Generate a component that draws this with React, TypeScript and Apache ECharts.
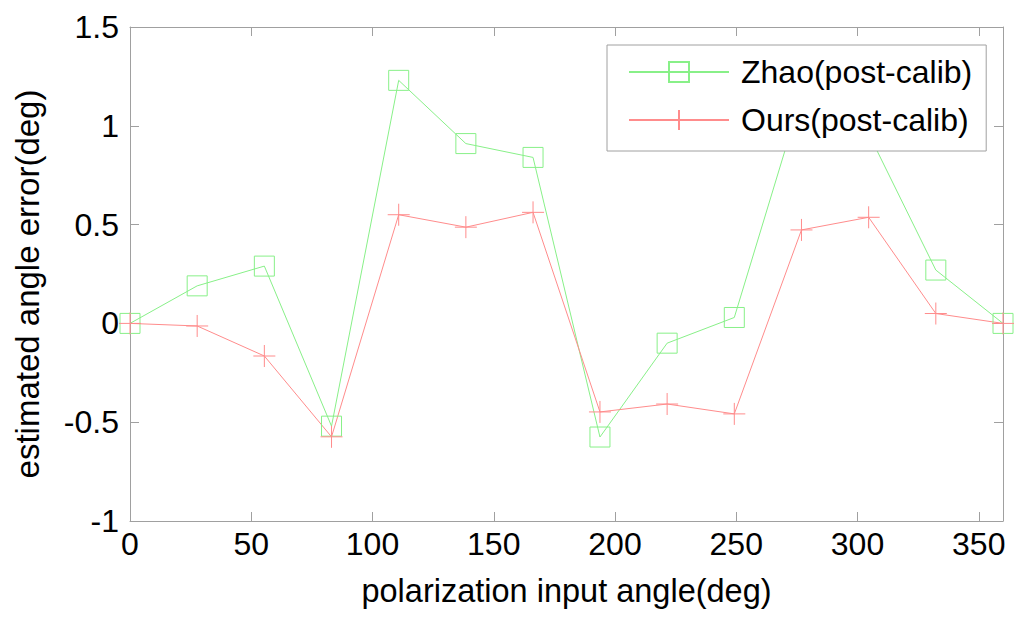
import React, { useEffect, useRef } from "react";
import * as echarts from "echarts";

const xAngles = [0, 27.7, 55.4, 83.1, 110.8, 138.5, 166.2, 193.8, 221.5, 249.2, 276.9, 304.6, 332.3, 360];
const zhaoValues = [0, 0.19, 0.29, -0.52, 1.23, 0.91, 0.84, -0.575, -0.1, 0.03, 1.15, 0.96, 0.27, 0];
const oursValues = [0, -0.013, -0.165, -0.574, 0.55, 0.487, 0.562, -0.448, -0.408, -0.458, 0.473, 0.537, 0.05, 0];
const seriesNames = ["Zhao(post-calib)", "Ours(post-calib)"];
const xAxisName = "polarization input angle(deg)";
const yAxisName = "estimated angle error(deg)";

const FONT = "'Liberation Sans', Arial, sans-serif";
const AXIS_COLOR = "#a0a0a0";
const GREEN = "#88f088";
const RED = "#ff8c8c";

export default function App() {
  const ref = useRef<HTMLDivElement>(null);
  useEffect(() => {
    if (!ref.current) return;
    const chart = echarts.init(ref.current, undefined, { renderer: "svg" });
    const axisCommon = {
      axisLine: { show: true, onZero: false, lineStyle: { color: AXIS_COLOR, width: 1 } },
      axisTick: { show: true, inside: true, length: 9, lineStyle: { color: AXIS_COLOR, width: 1 } },
      splitLine: { show: false },
    };
    const option = {
      animation: false,
      backgroundColor: "#ffffff",
      grid: { left: 130, right: 21, top: 27, bottom: 100 },
      legend: {
        left: 607,
        top: 45,
        orient: "vertical",
        itemWidth: 100,
        itemHeight: 25,
        itemGap: 14,
        padding: [10, 14, 14, 21],
        borderColor: AXIS_COLOR,
        borderWidth: 1,
        backgroundColor: "#ffffff",
        textStyle: { fontSize: 32, fontFamily: FONT, color: "#000", lineHeight: 34, padding: [0, 0, 0, 7] },
        data: seriesNames,
      },
      xAxis: [
        {
          type: "value",
          min: 0,
          max: 360,
          interval: 50,
          position: "bottom",
          ...axisCommon,
          axisLabel: { color: "#000", fontSize: 32, fontFamily: FONT, margin: 7 },
          name: xAxisName,
          nameLocation: "middle",
          nameGap: 53,
          nameTextStyle: { color: "#000", fontSize: 32.5, fontFamily: FONT },
        },
        {
          type: "value",
          min: 0,
          max: 360,
          interval: 50,
          position: "top",
          ...axisCommon,
          axisLabel: { show: false },
        },
      ],
      yAxis: [
        {
          type: "value",
          min: -1,
          max: 1.5,
          interval: 0.5,
          position: "left",
          ...axisCommon,
          axisLabel: { color: "#000", fontSize: 32, fontFamily: FONT, margin: 11 },
          name: yAxisName,
          nameLocation: "middle",
          nameGap: 86,
          nameTextStyle: { color: "#000", fontSize: 33, fontFamily: FONT, padding: [0, 20, 0, 0] },
        },
        {
          type: "value",
          min: -1,
          max: 1.5,
          interval: 0.5,
          position: "right",
          ...axisCommon,
          axisLabel: { show: false },
        },
      ],
      series: [
        {
          type: "line",
          name: seriesNames[0],
          data: xAngles.map((x, i) => [x, zhaoValues[i]]),
          symbol: "rect",
          symbolSize: 20,
          clip: false,
          lineStyle: { color: GREEN, width: 1 },
          itemStyle: { color: "rgba(0,0,0,0)", borderColor: GREEN, borderWidth: 1 },
          emphasis: { disabled: true },
        },
        {
          type: "line",
          name: seriesNames[1],
          data: xAngles.map((x, i) => [x, oursValues[i]]),
          symbol: "path://M10 0L10 20M0 10L20 10",
          symbolSize: 22,
          clip: false,
          lineStyle: { color: RED, width: 1 },
          itemStyle: { color: "rgba(0,0,0,0)", borderColor: RED, borderWidth: 1 },
          emphasis: { disabled: true },
        },
      ],
    };
    chart.setOption(option as any);
    return () => chart.dispose();
  }, []);
  return (
    <div
      ref={ref}
      style={{ position: "absolute", left: 0, top: 0, width: 1024, height: 621, background: "#fff" }}
    />
  );
}
